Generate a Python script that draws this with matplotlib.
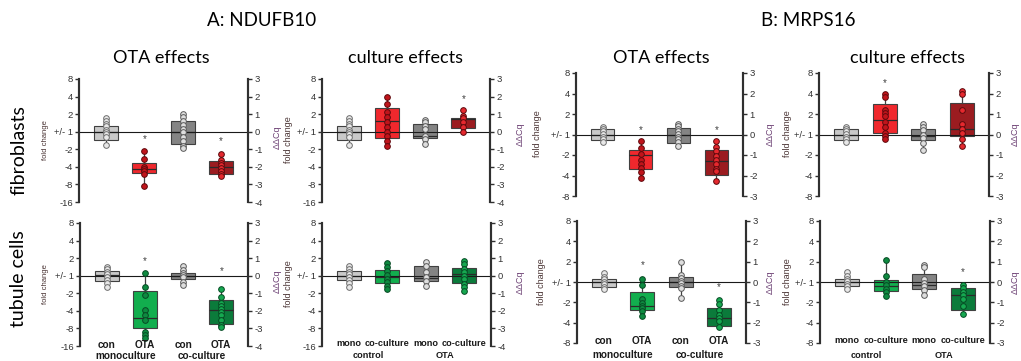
import matplotlib
matplotlib.use('Agg')
import matplotlib.pyplot as plt
from matplotlib.transforms import blended_transform_factory

# box stats per group: [whisker low, q1, median, q3, whisker high]  (ddCq units)
a_fib_ota_box = [[-0.74, -0.48, 0.0, 0.31, 0.78], [-3.09, -2.33, -2.14, -1.76, -1.09],
                 [-0.94, -0.71, 0.0, 0.63, 1.01], [-2.52, -2.42, -2.0, -1.66, -1.28]]
a_fib_ota_pts = [[0.78, 0.62, 0.45, 0.30, 0.12, 0.0, -0.12, -0.30, -0.74],
                 [-1.09, -1.56, -2.0, -2.14, -2.23, -2.39, -3.09],
                 [1.01, 0.82, 0.63, 0.40, 0.15, 0.0, -0.32, -0.52, -0.80, -0.94],
                 [-1.28, -1.62, -1.76, -1.89, -2.04, -2.23, -2.42, -2.52]]
a_fib_ota_star = [None, -0.42, None, -0.52]

a_fib_cul_box = [[-0.74, -0.48, 0.0, 0.30, 0.78], [-0.80, -0.36, 0.63, 1.33, 2.0],
                 [-0.70, -0.38, -0.23, 0.44, 0.67], [0.0, 0.21, 0.72, 0.78, 1.24]]
a_fib_cul_pts = [[0.78, 0.62, 0.45, 0.30, 0.12, 0.0, -0.12, -0.30, -0.74],
                 [2.0, 1.58, 1.10, 0.86, 0.57, 0.25, -0.04, -0.23, -0.51, -0.80],
                 [0.67, 0.53, 0.34, 0.15, -0.23, -0.42, -0.70],
                 [1.24, 0.91, 0.78, 0.53, 0.25, 0.0]]
a_fib_cul_star = [None, None, None, 1.86]

a_tub_ota_box = [[-0.67, -0.29, 0.04, 0.29, 0.52], [-3.53, -2.98, -2.39, -0.86, 0.17],
                 [-0.53, -0.19, -0.02, 0.17, 0.55], [-2.92, -2.73, -1.93, -1.39, -0.73]]
a_tub_ota_pts = [[0.52, 0.38, 0.23, 0.10, -0.06, -0.25, -0.40, -0.67],
                 [0.17, -0.67, -1.11, -1.97, -2.25, -2.50, -3.21, -3.40, -3.53],
                 [0.55, 0.32, 0.17, 0.04, -0.10, -0.34, -0.53],
                 [-0.73, -1.2, -1.58, -1.74, -1.87, -2.06, -2.25, -2.54, -2.82, -2.92]]
a_tub_ota_star = [None, 0.84, None, 0.27]

a_tub_cul_box = [[-0.63, -0.25, 0.0, 0.29, 0.53], [-0.76, -0.44, -0.06, 0.32, 0.71],
                 [-0.57, -0.32, -0.13, 0.57, 0.76], [-0.86, -0.44, 0.10, 0.42, 0.86]]
a_tub_cul_pts = [[0.53, 0.38, 0.23, 0.10, -0.06, -0.25, -0.40, -0.63],
                 [0.71, 0.48, 0.25, 0.06, -0.19, -0.34, -0.57, -0.76],
                 [0.76, 0.57, 0.19, -0.10, -0.29, -0.57],
                 [0.86, 0.67, 0.38, 0.19, 0.0, -0.19, -0.48, -0.67, -0.86]]
a_tub_cul_star = [None, None, None, None]

b_fib_ota_box = [[-0.38, -0.25, 0.0, 0.28, 0.39], [-2.13, -1.69, -1.0, -0.75, -0.34],
                 [-0.54, -0.43, 0.0, 0.33, 0.52], [-2.26, -1.98, -1.31, -0.75, -0.34]]
b_fib_ota_pts = [[0.39, 0.28, 0.16, 0.03, -0.10, -0.23, -0.38],
                 [-0.34, -0.66, -0.95, -1.25, -1.44, -1.61, -1.85, -2.13],
                 [0.52, 0.41, 0.28, 0.16, 0.03, -0.10, -0.23, -0.38, -0.54],
                 [-0.34, -0.59, -0.79, -1.03, -1.25, -1.44, -1.69, -1.77, -2.26]]
b_fib_ota_star = [None, 0.23, None, 0.23]

b_fib_cul_box = [[-0.38, -0.25, 0.0, 0.28, 0.39], [-0.21, 0.08, 0.69, 1.49, 1.97],
                 [-0.75, -0.25, -0.05, 0.28, 0.49], [-0.54, -0.08, 0.28, 1.54, 2.13]]
b_fib_cul_pts = [[0.39, 0.28, 0.16, 0.03, -0.10, -0.23, -0.38],
                 [1.97, 1.84, 1.21, 1.05, 0.89, 0.61, 0.36, 0.07, -0.05, -0.21],
                 [0.49, 0.39, 0.20, 0.0, -0.16, -0.43, -0.75],
                 [2.13, 1.97, 1.21, 0.52, 0.28, 0.07, -0.21, -0.54]]
b_fib_cul_star = [None, 2.52, None, None]

b_tub_ota_box = [[-0.36, -0.23, 0.0, 0.13, 0.42], [-1.65, -1.37, -1.17, -0.51, 0.16],
                 [-0.77, -0.26, 0.0, 0.26, 0.98], [-2.19, -2.15, -1.75, -1.26, -0.88]]
b_tub_ota_pts = [[0.42, 0.26, 0.13, 0.02, -0.10, -0.23, -0.36],
                 [0.16, -0.15, -0.85, -1.04, -1.17, -1.29, -1.45, -1.65],
                 [0.98, 0.33, 0.20, 0.07, -0.07, -0.20, -0.31, -0.77],
                 [-0.88, -1.08, -1.37, -1.61, -1.78, -1.94, -2.19]]
b_tub_ota_star = [None, 0.83, None, -0.26]

b_tub_cul_box = [[-0.33, -0.21, 0.0, 0.16, 0.49], [-0.69, -0.44, -0.21, 0.11, 1.07],
                 [-0.66, -0.33, -0.16, 0.41, 0.85], [-1.56, -1.36, -0.62, -0.28, -0.16]]
b_tub_cul_pts = [[0.49, 0.28, 0.15, 0.03, -0.08, -0.21, -0.33],
                 [1.07, 0.30, 0.0, -0.16, -0.33, -0.49, -0.69],
                 [0.85, 0.74, 0.13, -0.05, -0.21, -0.41, -0.66],
                 [-0.16, -0.28, -0.49, -0.66, -0.82, -1.20, -1.56]]
b_tub_cul_star = [None, None, None, 0.49]

# axis labels
a_ticks = [3, 2, 1, 0, -1, -2, -3, -4]
a_fold = ['8', '4', '2', '+/- 1', '-2', '-4', '-8', '-16']
b_ticks = [3, 2, 1, 0, -1, -2, -3]
b_fold = ['8', '4', '2', '+/- 1', '-2', '-4', '-8']
ota_cats = ['con', 'OTA', 'con', 'OTA']
ota_groups = ['monoculture', 'co-culture']
cul_cats = ['mono', 'co-culture', 'mono', 'co-culture']
cul_groups = ['control', 'OTA']

fib_box_col = ['#c9c9c9', '#f0282d', '#848484', '#9b1c20']
fib_pt_face = ['#e8e8e8', '#c0141b', '#dedede', '#e5282e']
fib_pt_edge = ['#6e6e6e', '#5e080c', '#5a5a5a', '#5a0a0d']
tub_box_col = ['#c9c9c9', '#12ae4e', '#848484', '#0b7b3b']
tub_pt_face = ['#e8e8e8', '#0e8a40', '#dedede', '#16a850']
tub_pt_edge = ['#6e6e6e', '#074a24', '#5a5a5a', '#064a24']

W, H = 1021, 361
POS = [1, 2, 3, 4]
TICK_FONT = ['Liberation Sans', 'DejaVu Sans']
TITLE_FONT = ['Lato', 'DejaVu Sans']
DARK = '#303030'

fig = plt.figure(figsize=(W / 100, H / 100), dpi=100)


def panel(rect, boxes, pts, stars, box_col, pt_face, pt_edge, ticks, fold):
    x0, x1, y0, y1 = rect
    ax = fig.add_axes([x0 / W, 1 - y1 / H, (x1 - x0) / W, (y1 - y0) / H])
    stats = [dict(whislo=b[0], q1=b[1], med=b[2], q3=b[3], whishi=b[4]) for b in boxes]
    bp = ax.bxp(stats, positions=POS, widths=0.62, patch_artist=True,
                showcaps=False, showfliers=False,
                boxprops=dict(edgecolor='#404040', linewidth=0.8),
                medianprops=dict(color='#2a2a2a', linewidth=0.9),
                whiskerprops=dict(color='#404040', linewidth=0.9))
    for patch, c in zip(bp['boxes'], box_col):
        patch.set_facecolor(c)
    ax.axhline(0, color='#1a1a1a', linewidth=0.8, zorder=2.5)
    for p, vals, fc, ec in zip(POS, pts, pt_face, pt_edge):
        ax.plot([p] * len(vals), vals, 'o', ms=4.1, mfc=fc, mec=ec, mew=0.7, zorder=3)
    for p, s in zip(POS, stars):
        if s is not None:
            ax.text(p, s, '*', ha='center', va='center', fontsize=7, color='#404040',
                    family=TICK_FONT)
    ax.set_xlim(0.3, 4.7)
    ax.set_ylim(ticks[-1], ticks[0])
    ax.set_xticks([])
    ax.set_yticks(ticks)
    ax.set_yticklabels(fold, family=TICK_FONT)
    ax2 = ax.twinx()
    ax2.set_ylim(ticks[-1], ticks[0])
    ax2.set_yticks(ticks)
    ax2.set_yticklabels([str(t) for t in ticks], family=TICK_FONT)
    for a in (ax, ax2):
        a.patch.set_visible(False)
        a.spines['top'].set_visible(False)
        a.spines['bottom'].set_visible(False)
        a.spines['left'].set_color(DARK)
        a.spines['right'].set_color(DARK)
        a.spines['left'].set_linewidth(1.5)
        a.spines['right'].set_linewidth(1.5)
        a.tick_params(axis='y', direction='out', length=3, width=1, color=DARK,
                      labelsize=6.8, labelcolor='#333333', pad=1.5)
    return ax


def cat_labels(ax, cats, groups, cat_y, grp_y, fs):
    tr = blended_transform_factory(ax.transData, ax.transAxes)
    for p, c in zip(POS, cats):
        ax.text(p, cat_y, c, transform=tr, ha='center', va='center', fontsize=fs,
                fontweight='bold', color='#1a1a1a', family=TICK_FONT)
    for (p1, p2), g in zip([(1, 2), (3, 4)], groups):
        ax.text((p1 + p2) / 2, grp_y, g, transform=tr, ha='center', va='center',
                fontsize=fs, fontweight='bold', color='#1a1a1a', family=TICK_FONT)


panel((79, 248, 79, 202), a_fib_ota_box, a_fib_ota_pts, a_fib_ota_star,
      fib_box_col, fib_pt_face, fib_pt_edge, a_ticks, a_fold)
panel((322, 490, 79, 202), a_fib_cul_box, a_fib_cul_pts, a_fib_cul_star,
      fib_box_col, fib_pt_face, fib_pt_edge, a_ticks, a_fold)
ax = panel((80, 248, 223, 346), a_tub_ota_box, a_tub_ota_pts, a_tub_ota_star,
           tub_box_col, tub_pt_face, tub_pt_edge, a_ticks, a_fold)
cat_labels(ax, ota_cats, ota_groups, 0.01, -0.08, 7.2)
ax = panel((322, 491, 223, 346), a_tub_cul_box, a_tub_cul_pts, a_tub_cul_star,
           tub_box_col, tub_pt_face, tub_pt_edge, a_ticks, a_fold)
cat_labels(ax, cul_cats, cul_groups, 0.02, -0.08, 6.6)

panel((576, 743, 73, 196), b_fib_ota_box, b_fib_ota_pts, b_fib_ota_star,
      fib_box_col, fib_pt_face, fib_pt_edge, b_ticks, b_fold)
panel((819, 989, 73, 196), b_fib_cul_box, b_fib_cul_pts, b_fib_cul_star,
      fib_box_col, fib_pt_face, fib_pt_edge, b_ticks, b_fold)
ax = panel((577, 746, 221, 343), b_tub_ota_box, b_tub_ota_pts, b_tub_ota_star,
           tub_box_col, tub_pt_face, tub_pt_edge, b_ticks, b_fold)
cat_labels(ax, ota_cats, ota_groups, 0.02, -0.1, 7.2)
ax = panel((820, 990, 221, 343), b_tub_cul_box, b_tub_cul_pts, b_tub_cul_star,
           tub_box_col, tub_pt_face, tub_pt_edge, b_ticks, b_fold)
cat_labels(ax, cul_cats, cul_groups, 0.02, -0.1, 6.6)


def ftext(x, y, s, **kw):
    fig.text(x / W, 1 - y / H, s, **kw)


# titles
ftext(262, 20, 'A: NDUFB10', ha='center', va='center', fontsize=13.5, family=TITLE_FONT)
ftext(808, 20, 'B: MRPS16', ha='center', va='center', fontsize=13.5, family=TITLE_FONT)
for x, s in [(161, 'OTA effects'), (405, 'culture effects'),
             (661, 'OTA effects'), (907, 'culture effects')]:
    ftext(x, 58, s, ha='center', va='center', fontsize=13, family=TITLE_FONT)
ftext(19, 150, 'fibroblasts', ha='center', va='center', rotation=90, fontsize=14,
      family=TITLE_FONT)
ftext(19, 279, 'tubule cells', ha='center', va='center', rotation=90, fontsize=14,
      family=TITLE_FONT)

# axis titles
for x, y, fs in [(45, 140, 5.5), (45, 284, 5.5), (288, 140, 6.5), (288, 284, 6.5),
                 (538, 134, 6.5), (541, 282, 6.5), (787, 134, 6.5), (787, 282, 6.5)]:
    ftext(x, y, 'fold change', ha='center', va='center', rotation=90, fontsize=fs,
          color='#4a3434', family=TICK_FONT)
for x, y in [(277, 137), (277, 281), (520, 134), (520, 282), (770, 134), (770, 282),
             (1015, 134), (1015, 282)]:
    ftext(x, y, 'ΔΔCq', ha='center', va='center', rotation=90, fontsize=6.5,
          color='#6b3f73', family=TICK_FONT)

fig.savefig('out.png', dpi=100)
